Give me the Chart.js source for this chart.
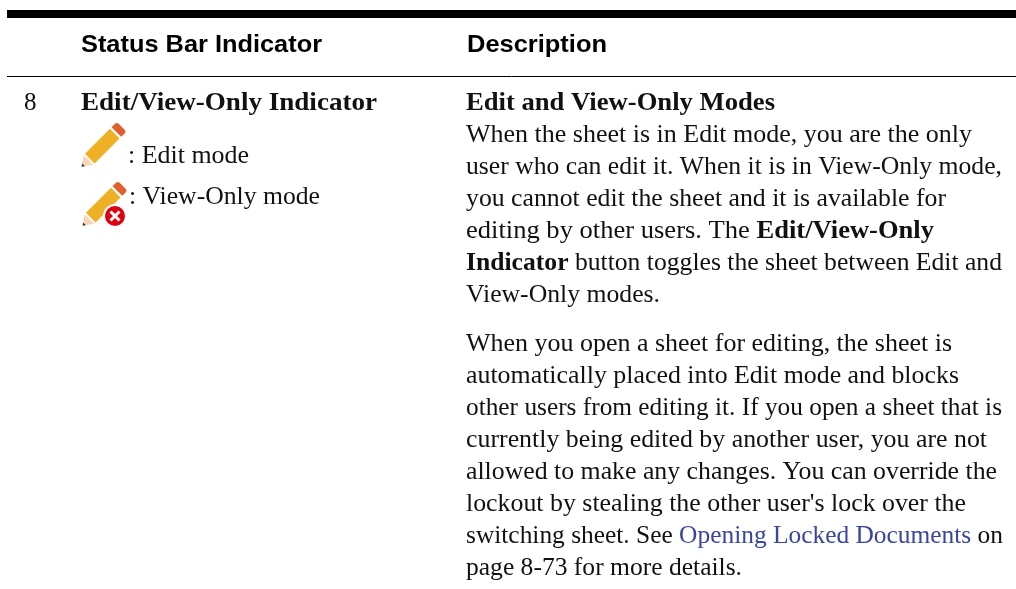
<!DOCTYPE html>
<html>
<head>
<meta charset="utf-8">
<title>Status Bar Indicator</title>
<script src="https://cdn.jsdelivr.net/npm/chart.js@4"></script>
<style>
    html, body { margin: 0; padding: 0; background: #fff; overflow: hidden; }
    canvas { display: block; }
</style>
</head>
<body>
<canvas id="sheet" width="1016" height="589"></canvas>
<script>
"use strict"

// table content. no numeric series in this one
var headers = ['Status Bar Indicator', 'Description'];
var rowNumber = '8';
var indicatorTitle = 'Edit/View-Only Indicator';
var indicatorModes = [': Edit mode', ': View-Only mode'];

// each line is a list of runs: [text, kind]  (kind: n normal, b bold, l link)
var descriptionLines = [
    [['Edit and View-Only Modes', 'b']],
    [['When the sheet is in Edit mode, you are the only', 'n']],
    [['user who can edit it. When it is in View-Only mode,', 'n']],
    [['you cannot edit the sheet and it is available for', 'n']],
    [['editing by other users. The ', 'n'], ['Edit/View-Only', 'b']],
    [['Indicator', 'b'], [' button toggles the sheet between Edit and', 'n']],
    [['View-Only modes.', 'n']]
];
var detailLines = [
    [['When you open a sheet for editing, the sheet is', 'n']],
    [['automatically placed into Edit mode and blocks', 'n']],
    [['other users from editing it. If you open a sheet that is', 'n']],
    [['currently being edited by another user, you are not', 'n']],
    [['allowed to make any changes. You can override the', 'n']],
    [["lockout by stealing the other user's lock over the", 'n']],
    [['switching sheet. See ', 'n'], ['Opening Locked Documents', 'l'], [' on', 'n']],
    [['page 8-73 for more details.', 'n']]
];

// right edges of the lines above, garamond is narrower than what we have
var descriptionEnds = [775, 972, 1002, 946, 934, 1002, 660];
var detailEnds = [952, 959, 1002, 987, 997, 966, 1003, 742];

var SERIF = '"Liberation Serif", serif';
var SANS = '"Liberation Sans", sans-serif';
var INK = '#111111';
var LINK = '#3a459f';

function fontFor(kind) {
    return (kind == 'b' ? 'bold ' : '') + '25px ' + SERIF;
}

// draws runs from x to right edge, fitting the whole line horizontally
function drawLine(ctx, runs, x, y, right) {
    var total = 0;
    runs.forEach(function (run) {
        ctx.font = fontFor(run[1]);
        total += ctx.measureText(run[0]).width;
    });
    ctx.save();
    ctx.translate(x, y);
    ctx.scale((right - x) / total, 1);
    var pos = 0;
    runs.forEach(function (run) {
        ctx.font = fontFor(run[1]);
        ctx.fillStyle = run[1] == 'l' ? LINK : INK;
        ctx.fillText(run[0], pos, 0);
        pos += ctx.measureText(run[0]).width;
    });
    ctx.restore();
}

// same fitting for the sans header cells
function drawHeader(ctx, text, x, y, right) {
    ctx.save();
    ctx.font = 'bold 24px ' + SANS;
    ctx.fillStyle = '#000000';
    ctx.translate(x, y);
    ctx.scale((right - x) / ctx.measureText(text).width, 1);
    ctx.fillText(text, 0, 0);
    ctx.restore();
}

// pencil along its own axis, tipX/tipY is the sharp end
function drawPencil(ctx, tipX, tipY) {
    ctx.save();
    ctx.translate(tipX, tipY);
    ctx.rotate(-Math.PI / 4);
    // wood
    ctx.fillStyle = '#fbd5b8';
    ctx.beginPath();
    ctx.moveTo(0, 0);
    ctx.lineTo(9.5, -6.8);
    ctx.lineTo(9.5, 6.8);
    ctx.closePath();
    ctx.fill();
    // lead
    ctx.fillStyle = '#333333';
    ctx.beginPath();
    ctx.moveTo(0, 0);
    ctx.lineTo(2.6, -1.9);
    ctx.lineTo(2.6, 1.9);
    ctx.closePath();
    ctx.fill();
    // body
    ctx.fillStyle = '#eeb024';
    ctx.fillRect(11.4, -6.8, 35.3, 13.6);
    // eraser
    ctx.fillStyle = '#e0602d';
    ctx.beginPath();
    ctx.roundRect(49, -6.8, 7.5, 13.6, [0, 3, 3, 0]);
    ctx.fill();
    ctx.restore();
}

function drawErrorBadge(ctx, x, y) {
    ctx.fillStyle = '#ffffff';
    ctx.beginPath();
    ctx.arc(x, y, 12, 0, Math.PI * 2);
    ctx.fill();
    ctx.fillStyle = '#dd0010';
    ctx.beginPath();
    ctx.arc(x, y, 10, 0, Math.PI * 2);
    ctx.fill();
    ctx.strokeStyle = '#ffffff';
    ctx.lineWidth = 3;
    ctx.beginPath();
    ctx.moveTo(x - 4.5, y - 4.5);
    ctx.lineTo(x + 4.5, y + 4.5);
    ctx.moveTo(x + 4.5, y - 4.5);
    ctx.lineTo(x - 4.5, y + 4.5);
    ctx.stroke();
}

var tableText = {
    id: 'tableText',
    afterDatasetsDraw: function (chart) {
        var ctx = chart.ctx;
        var sx = chart.scales.x;
        var sy = chart.scales.y;
        var px = function (v) { return sx.getPixelForValue(v); };
        var py = function (v) { return sy.getPixelForValue(v); };

        ctx.save();
        ctx.textBaseline = 'alphabetic';
        ctx.textAlign = 'left';

        // header row
        drawHeader(ctx, headers[0], px(81), py(52), px(322));
        drawHeader(ctx, headers[1], px(467), py(52), px(607));

        // left columns
        ctx.fillStyle = INK;
        ctx.font = '25px ' + SERIF;
        ctx.fillText(rowNumber, px(24), py(110));
        drawLine(ctx, [[indicatorTitle, 'b']], px(81), py(110), px(377));
        drawPencil(ctx, px(81.7), py(166.7));
        drawLine(ctx, [[indicatorModes[0], 'n']], px(128), py(163), px(249));
        drawPencil(ctx, px(82.7), py(225.7));
        drawErrorBadge(ctx, px(115), py(216));
        drawLine(ctx, [[indicatorModes[1], 'n']], px(129), py(204), px(320));

        // description column
        descriptionLines.forEach(function (runs, i) {
            drawLine(ctx, runs, px(466), py(110 + i * 32), px(descriptionEnds[i]));
        });
        detailLines.forEach(function (runs, i) {
            drawLine(ctx, runs, px(466), py(350.5 + i * 32), px(detailEnds[i]));
        });
        ctx.restore();
    }
};

var ruleStart = 7;
var ruleEnd = 1016;

function rule(level, width) {
    return {
        data: [{ x: ruleStart, y: level }, { x: ruleEnd, y: level }],
        borderColor: '#000000',
        borderWidth: width,
        pointRadius: 0,
        borderCapStyle: 'butt'
    };
}

new Chart(document.getElementById('sheet').getContext('2d'), {
    type: 'line',
    data: { datasets: [rule(14, 8), rule(76.5, 1)] },
    options: {
        responsive: false,
        animation: false,
        layout: { padding: 0 },
        plugins: { legend: { display: false }, tooltip: { enabled: false } },
        scales: {
            x: { type: 'linear', display: false, min: 0, max: 1016 },
            y: { type: 'linear', display: false, min: 0, max: 589, reverse: true }
        }
    },
    plugins: [tableText]
});
</script>
</body>
</html>
